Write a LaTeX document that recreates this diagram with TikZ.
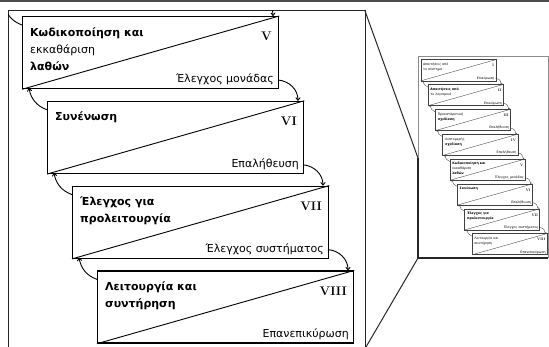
\documentclass[tikz,border=0pt]{standalone}
\usepackage{fontspec}
\newfontfamily\grk{DejaVu Sans}
\usetikzlibrary{arrows.meta}

% One stage of the waterfall: box split by a diagonal, title, numeral, check label
% #1 node name, #2 stage index (5 = first stage of the enlarged view), #3 title,
% #4 roman numeral, #5 check label
\newcommand\stage[5]{%
  \begin{scope}[shift={({22+25*(#2-5)},{331-84.8*(#2-5)})}]
    \node[stagebox] (#1) at (0,0) {};
    \draw[diag] (#1.south west) -- (#1.north east);
    % a strut of 11pt fixes the first baseline 11pt below the node top
    \node[stagetitle] (#1-title) at (8,-9) {\rule{0pt}{11pt}#3};
    \node[stagenum] (#1-num) at (250,-25) {#4};
    \node[checktext] (#1-check) at (252,-67) {#5};
    \coordinate (#1-out) at (256,-64);
    \coordinate (#1-in) at (251,0);
    \coordinate (#1-back) at (0,-9);
    \coordinate (#1-tip) at (7,-72);
  \end{scope}}

\begin{document}
\begin{tikzpicture}[x=1pt,y=1pt,
  stagebox/.style={draw=black, line width=1.3pt, fill=white, inner sep=0pt,
    minimum width=256pt, minimum height=72pt, anchor=north west},
  diag/.style={line width=0.9pt},
  stagetitle/.style={anchor=north west, inner sep=0pt, align=left,
    font=\grk\fontsize{11}{17}\selectfont},
  stagenum/.style={anchor=base east, inner sep=0pt,
    font=\rmfamily\bfseries\fontsize{12.5}{14}\selectfont},
  checktext/.style={anchor=base east, inner sep=0pt,
    font=\grk\fontsize{11}{13}\selectfont},
  arr/.style={line width=0.9pt, -{To[length=3.5pt,width=5pt]}},
  frameline/.style={line width=1pt, draw=black!85}]

\useasboundingbox (0,0) rectangle (549,347);

% dark strip along the top edge
\fill[black!70] (0,344.5) rectangle (549,347);

% frame of the enlarged view and the lines leading to the overview
\draw[frameline] (8,0) -- (8,336) -- (365,336) -- (365,0);
\draw[frameline] (365,336) -- (418,189);
\draw[frameline] (366,0) -- (418,89);

% enlarged view: stages V to VIII
\stage{bV}{5}{\textbf{Κωδικοποίηση και}\\εκκαθάριση\\\textbf{λαθών}}{V}{Έλεγχος μονάδας}
\stage{bVI}{6}{\textbf{Συνένωση}}{VI}{Επαλήθευση}
\stage{bVII}{7}{\textbf{Έλεγχος για}\\\textbf{προλειτουργία}}{VII}{Έλεγχος συστήματος}
\stage{bVIII}{8}{\textbf{Λειτουργία και}\\\textbf{συντήρηση}}{VIII}{Επανεπικύρωση}

\foreach \a/\b in {bV/bVI, bVI/bVII, bVII/bVIII}{
  \draw[arr] (\a-out) to[out=-5,in=90] (\b-in);
  \draw[arr] (\b-back) to[out=160,in=-80] (\a-tip);
}

% links to stage IV, cut off by the frame
\begin{scope}
  \clip (8,0) rectangle (365,336);
  \coordinate (bIV-out) at (253,351.8);
  \coordinate (bIV-tip) at (4,343.8);
  \draw[arr] (bIV-out) to[out=-5,in=90] (bV-in);
  \draw[line width=0.9pt] (bV-back) to[out=160,in=-80] (bIV-tip);
\end{scope}

% overview of all eight stages
\draw[line width=1pt, draw=black!45] (418,89) rectangle (548,290);
\draw[line width=1.4pt, draw=black!85] (418,189) -- (418,89) -- (548,89);
\begin{scope}[shift={(443.55,91.0)}, scale=0.293, transform shape,
  stagebox/.append style={line width=0.5pt, draw=black!75},
  diag/.style={line width=0.35pt, draw=black!75},
  arr/.style={line width=0.35pt, draw=black!75, -{To[length=1.3pt,width=1.8pt]}}]
  \stage{tI}{1}{Απαιτήσεις από\\το σύστημα}{I}{Επικύρωση}
  \stage{tII}{2}{\textbf{Απαιτήσεις από}\\το λογισμικό}{II}{Επικύρωση}
  \stage{tIII}{3}{Προκαταρκτική\\\textbf{σχεδίαση}}{III}{Επαλήθευση}
  \stage{tIV}{4}{Λεπτομερής\\\textbf{σχεδίαση}}{IV}{Επαλήθευση}
  \stage{tV}{5}{\textbf{Κωδικοποίηση και}\\εκκαθάριση\\\textbf{λαθών}}{V}{Έλεγχος μονάδας}
  \stage{tVI}{6}{\textbf{Συνένωση}}{VI}{Επαλήθευση}
  \stage{tVII}{7}{\textbf{Έλεγχος για}\\\textbf{προλειτουργία}}{VII}{Έλεγχος συστήματος}
  \stage{tVIII}{8}{Λειτουργία και\\συντήρηση}{VIII}{Επανεπικύρωση}
  \foreach \a/\b in {tI/tII, tII/tIII, tIII/tIV, tIV/tV, tV/tVI, tVI/tVII, tVII/tVIII}{
    \draw[arr] (\a-out) to[out=-5,in=90] (\b-in);
    \draw[arr] (\b-back) to[out=160,in=-80] (\a-tip);
  }
\end{scope}
\end{tikzpicture}
\end{document}
